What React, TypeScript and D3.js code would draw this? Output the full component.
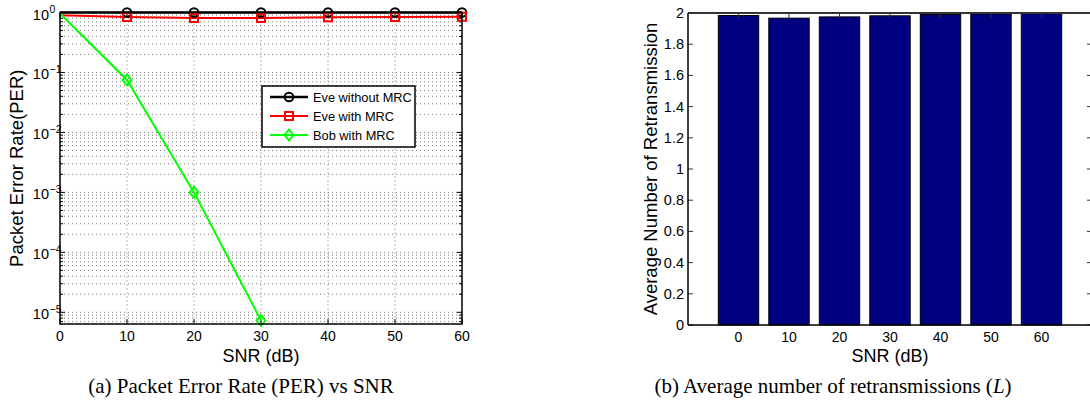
import React from "react";
import * as d3 from "d3";

const snr = [0, 10, 20, 30, 40, 50, 60];
const eveWithoutMRC = [1, 1, 1, 1, 1, 1, 1];
const eveWithMRC = [0.9, 0.84, 0.81, 0.81, 0.83, 0.84, 0.85];
const bobSnr = [0, 10, 20, 30];
const bobWithMRC = [0.96, 0.075, 0.001, 7.3e-6];
const yDecades = [0, -1, -2, -3, -4, -5];
const xTicksL = [0, 10, 20, 30, 40, 50, 60];

const barCats = ["0", "10", "20", "30", "40", "50", "60"];
const barValues = [1.984, 1.967, 1.975, 1.982, 1.99, 1.994, 1.996];
const yTicksR = [0, 0.2, 0.4, 0.6, 0.8, 1, 1.2, 1.4, 1.6, 1.8, 2];

const SANS = "'Liberation Sans', Arial, sans-serif";
const SERIF = "'Liberation Serif', 'Times New Roman', serif";

export default function App() {
  const xL = d3.scaleLinear().domain([0, 60]).range([60, 462]);
  const yL = d3.scaleLog().domain([Math.pow(10, -5.195), 1]).range([324, 12.5]);
  const L = { l: 60, r: 462, t: 12.5, b: 324 };

  const xR = d3.scaleLinear().domain([0, 8]).range([688, 1092]);
  const yR = d3.scaleLinear().domain([0, 2]).range([325, 13]);
  const R = { l: 688, r: 1092, t: 13, b: 325 };

  const minorVals: number[] = [];
  for (let e = -6; e <= 0; e++) {
    for (let m = 2; m <= 9; m++) {
      const v = m * Math.pow(10, e);
      if (v >= Math.pow(10, -5.195) && v < 1) minorVals.push(v);
    }
  }

  const line = d3
    .line<[number, number]>()
    .x((d) => xL(d[0]))
    .y((d) => yL(d[1]));

  const dataBlack = snr.map((s, i) => [s, eveWithoutMRC[i]] as [number, number]);
  const dataRed = snr.map((s, i) => [s, eveWithMRC[i]] as [number, number]);
  const dataGreen = bobSnr.map((s, i) => [s, bobWithMRC[i]] as [number, number]);

  const grid = { stroke: "#7a7a7a", strokeWidth: 1, strokeDasharray: "1,3" };
  const diamond = (cx: number, cy: number, s = 5.5) =>
    `M${cx},${cy - s}L${cx + s * 0.8},${cy}L${cx},${cy + s}L${cx - s * 0.8},${cy}Z`;

  const legendRows = [
    { label: "Eve without MRC", color: "#000000", w: 2.5, marker: "circle" },
    { label: "Eve with MRC", color: "#ff0000", w: 2, marker: "square" },
    { label: "Bob with MRC", color: "#00ff00", w: 2, marker: "diamond" },
  ];

  const marker = (kind: string, cx: number, cy: number, color: string, key: string) => {
    if (kind === "circle")
      return <circle key={key} cx={cx} cy={cy} r={4.3} fill="none" stroke={color} strokeWidth={2} />;
    if (kind === "square")
      return <rect key={key} x={cx - 4} y={cy - 4} width={8} height={8} fill="none" stroke={color} strokeWidth={2} />;
    return <path key={key} d={diamond(cx, cy)} fill="none" stroke={color} strokeWidth={2} />;
  };

  const barW = 0.8;
  const tickLen = 5;
  const xTickY = 341;
  const xLabelY = 362;

  return (
    <svg
      width={1090}
      height={402}
      style={{ position: "absolute", left: 0, top: 0, background: "#fff" }}
      fontFamily={SANS}
    >
      <rect x={0} y={0} width={1090} height={402} fill="#fff" />

      {/* ===== LEFT CHART ===== */}
      <g>
        {xTicksL.slice(1, -1).map((t) => (
          <line key={"gx" + t} x1={xL(t)} x2={xL(t)} y1={L.t} y2={L.b} {...grid} />
        ))}
        {yDecades.slice(1).map((e) => (
          <line key={"gy" + e} x1={L.l} x2={L.r} y1={yL(Math.pow(10, e))} y2={yL(Math.pow(10, e))} {...grid} />
        ))}
        {minorVals.map((v, i) => (
          <line key={"gm" + i} x1={L.l} x2={L.r} y1={yL(v)} y2={yL(v)} {...grid} />
        ))}

        {xTicksL.map((t) => (
          <g key={"xt" + t}>
            <line x1={xL(t)} x2={xL(t)} y1={L.b} y2={L.b - tickLen} stroke="#000" />
            <line x1={xL(t)} x2={xL(t)} y1={L.t} y2={L.t + tickLen} stroke="#000" />
          </g>
        ))}
        {yDecades.map((e) => (
          <g key={"yt" + e}>
            <line x1={L.l} x2={L.l + tickLen} y1={yL(Math.pow(10, e))} y2={yL(Math.pow(10, e))} stroke="#000" />
            <line x1={L.r} x2={L.r - tickLen} y1={yL(Math.pow(10, e))} y2={yL(Math.pow(10, e))} stroke="#000" />
          </g>
        ))}
        {minorVals.map((v, i) => (
          <g key={"ym" + i}>
            <line x1={L.l} x2={L.l + 3} y1={yL(v)} y2={yL(v)} stroke="#000" />
            <line x1={L.r} x2={L.r - 3} y1={yL(v)} y2={yL(v)} stroke="#000" />
          </g>
        ))}

        <path d={line(dataBlack) || ""} fill="none" stroke="#000" strokeWidth={2.5} />
        <path d={line(dataRed) || ""} fill="none" stroke="#ff0000" strokeWidth={2} />
        <path d={line(dataGreen) || ""} fill="none" stroke="#00ff00" strokeWidth={2} />
        {dataBlack.slice(1).map((d, i) => marker("circle", xL(d[0]), yL(d[1]), "#000", "mb" + i))}
        {dataRed.slice(1).map((d, i) => marker("square", xL(d[0]), yL(d[1]), "#ff0000", "mr" + i))}
        {dataGreen.slice(1).map((d, i) => marker("diamond", xL(d[0]), yL(d[1]), "#00ff00", "mg" + i))}

        <rect x={L.l} y={L.t} width={L.r - L.l} height={L.b - L.t} fill="none" stroke="#000" strokeWidth={1.5} />

        {xTicksL.map((t) => (
          <text key={"xl" + t} x={xL(t)} y={xTickY} textAnchor="middle" fontSize={14}>
            {t}
          </text>
        ))}
        {yDecades.map((e) => (
          <text key={"yl" + e} x={49} y={yL(Math.pow(10, e)) + 7} textAnchor="end" fontSize={14.5}>
            10
          </text>
        ))}
        {yDecades.map((e) => (
          <text key={"ys" + e} x={49.5} y={yL(Math.pow(10, e)) + 0.5} textAnchor="start" fontSize={10.5}>
            {e === 0 ? "0" : "\u2212" + Math.abs(e)}
          </text>
        ))}

        <text x={(L.l + L.r) / 2} y={xLabelY} textAnchor="middle" fontSize={18}>
          SNR (dB)
        </text>
        <text transform={`translate(23,${(L.t + L.b) / 2}) rotate(-90)`} textAnchor="middle" fontSize={18.5}>
          Packet Error Rate(PER)
        </text>

        <rect x={262} y={86} width={153} height={61} fill="#fff" stroke="#000" strokeWidth={1.5} />
        {legendRows.map((r, i) => {
          const cy = 97 + i * 19;
          return (
            <g key={"lg" + i}>
              <line x1={270} x2={308} y1={cy} y2={cy} stroke={r.color} strokeWidth={r.w} />
              {marker(r.marker, 289, cy, r.color, "lm" + i)}
              <text x={313} y={cy + 4.5} fontSize={12.8}>
                {r.label}
              </text>
            </g>
          );
        })}
      </g>

      {/* ===== RIGHT CHART ===== */}
      <g>
        {barValues.map((v, i) => (
          <rect
            key={"bar" + i}
            x={xR(i + 1 - barW / 2)}
            y={yR(v)}
            width={xR(i + 1 + barW / 2) - xR(i + 1 - barW / 2)}
            height={yR(0) - yR(v)}
            fill="#000080"
            stroke="#000"
            strokeWidth={1}
          />
        ))}
        {barCats.map((c, i) => (
          <g key={"rxt" + i}>
            <line x1={xR(i + 1)} x2={xR(i + 1)} y1={R.t} y2={R.t + tickLen} stroke="#333" />
            <text x={xR(i + 1)} y={xTickY + 1} textAnchor="middle" fontSize={14}>
              {c}
            </text>
          </g>
        ))}
        {yTicksR.map((t) => (
          <g key={"ryt" + t}>
            <line x1={R.l} x2={R.l + tickLen} y1={yR(t)} y2={yR(t)} stroke="#333" />
            <line x1={R.r} x2={R.r - tickLen} y1={yR(t)} y2={yR(t)} stroke="#333" />
            <text x={684} y={yR(t) + 5} textAnchor="end" fontSize={14.5}>
              {String(t)}
            </text>
          </g>
        ))}
        <line x1={R.l} x2={R.r} y1={R.t} y2={R.t} stroke="#333" strokeWidth={2} />
        <line x1={R.l} x2={R.r} y1={R.b} y2={R.b} stroke="#000" strokeWidth={1.5} />
        <line x1={R.l} x2={R.l} y1={R.t} y2={R.b} stroke="#000" strokeWidth={1.5} />
        <line x1={R.r} x2={R.r} y1={R.t} y2={R.b} stroke="#000" strokeWidth={1.5} />

        <text x={(R.l + R.r) / 2} y={xLabelY} textAnchor="middle" fontSize={18}>
          SNR (dB)
        </text>
        <text transform={`translate(657,${(R.t + R.b) / 2}) rotate(-90)`} textAnchor="middle" fontSize={18.5}>
          Average Number of Retransmission
        </text>
      </g>

      <text x={241} y={393} textAnchor="middle" fontFamily={SERIF} fontSize={21}>
        (a) Packet Error Rate (PER) vs SNR
      </text>
      <text x={833} y={393} textAnchor="middle" fontFamily={SERIF} fontSize={21}>
        (b) Average number of retransmissions (<tspan fontStyle="italic">L</tspan>)
      </text>
    </svg>
  );
}
